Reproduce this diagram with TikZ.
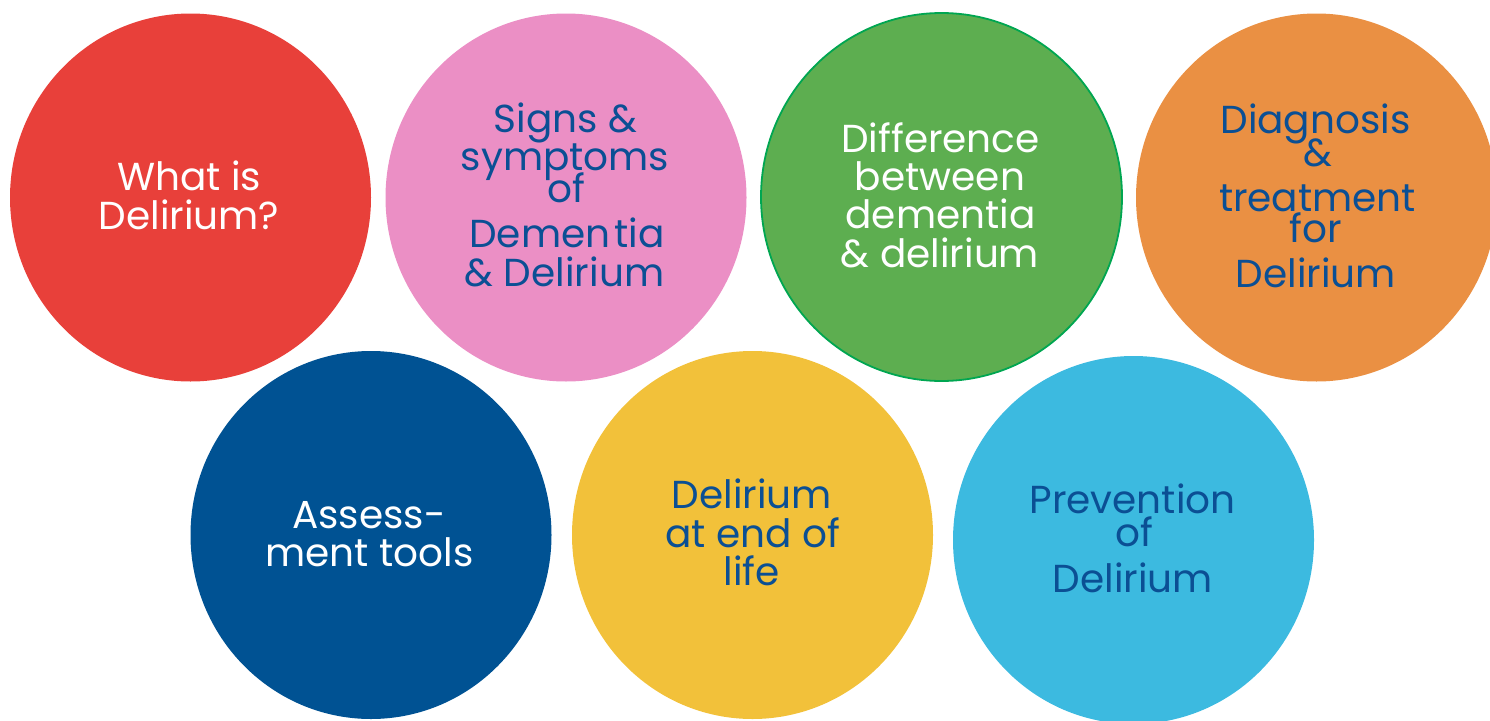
\documentclass[tikz,border=0pt]{standalone}
\usepackage{fontspec}
\setmainfont{Poppins}
\usetikzlibrary{shapes.geometric}
\definecolor{cred}{HTML}{E8403A}
\definecolor{cpink}{HTML}{EB8FC5}
\definecolor{cgreen}{HTML}{5DAE50}
\definecolor{cgreenline}{HTML}{00A651}
\definecolor{corange}{HTML}{EA9043}
\definecolor{cnavy}{HTML}{005293}
\definecolor{cyellow}{HTML}{F2C13A}
\definecolor{csky}{HTML}{3CBAE0}
\definecolor{ctext}{HTML}{0B4F94}
\tikzset{
  blob/.style={ellipse, draw=none, minimum width=361pt, minimum height=368pt, inner sep=0pt},
  lbl/.style={anchor=base, inner sep=0pt, text depth=0pt, text height=26pt, font=\fontsize{39}{40}\selectfont},
  wlbl/.style={lbl, text=white},
  blbl/.style={lbl, text=ctext}
}
\begin{document}
\begin{tikzpicture}[x=1pt, y=-1pt]
\useasboundingbox (0,0) rectangle (1490,720);
\clip (0,0) rectangle (1490,720);
% circles
\node[blob, fill=cred]    (c1) at (190.5,197.5) {};
\node[blob, fill=cpink]   (c2) at (566,197.5) {};
\node[blob, fill=cgreen, draw=cgreenline, line width=1.8pt] (c3) at (941.5,197) {};
\node[blob, fill=corange] (c4) at (1316.5,197.5) {};
\node[blob, fill=cnavy]   (c5) at (371,535) {};
\node[blob, fill=cyellow] (c6) at (752.5,535) {};
\node[blob, fill=csky]    (c7) at (1133.5,540) {};
% texts
\node[wlbl] (t1a) at (189,190) {What is};
\node[wlbl] (t1b) at (189,229) {Delirium?};

\node[blbl] (t2a) at (565.5,132) {Signs \&};
\node[blbl] (t2b) at (565,170) {symptoms};
\node[blbl] (t2c) at (566,202) {of};
\node[blbl] (t2d) at (567,247) {Demen\kern4pt tia};
\node[blbl] (t2e) at (564.5,286) {\& Delirium};

\node[wlbl] (t3a) at (940.5,152) {Difference};
\node[wlbl] (t3b) at (940,190) {between};
\node[wlbl] (t3c) at (940.5,228) {dementia};
\node[wlbl] (t3d) at (940,267) {\& delirium};

\node[blbl] (t4a) at (1315.5,133) {Diagnosis};
\node[blbl] (t4b) at (1317.5,166) {\&};
\node[blbl] (t4c) at (1317.5,211) {treatment};
\node[blbl] (t4d) at (1315.5,242) {for};
\node[blbl] (t4e) at (1316,287) {Delirium};

\node[wlbl] (t5a) at (369,528) {Assess-};
\node[wlbl] (t5b) at (369.5,566) {ment tools};

\node[blbl] (t6a) at (752,508) {Delirium};
\node[blbl] (t6b) at (752.5,547) {at end of};
\node[blbl] (t6c) at (751.5,585) {life};

\node[blbl] (t7a) at (1132.5,513) {Prevention};
\node[blbl] (t7b) at (1134,546) {of};
\node[blbl] (t7c) at (1133,592) {Delirium};
\end{tikzpicture}
\end{document}
